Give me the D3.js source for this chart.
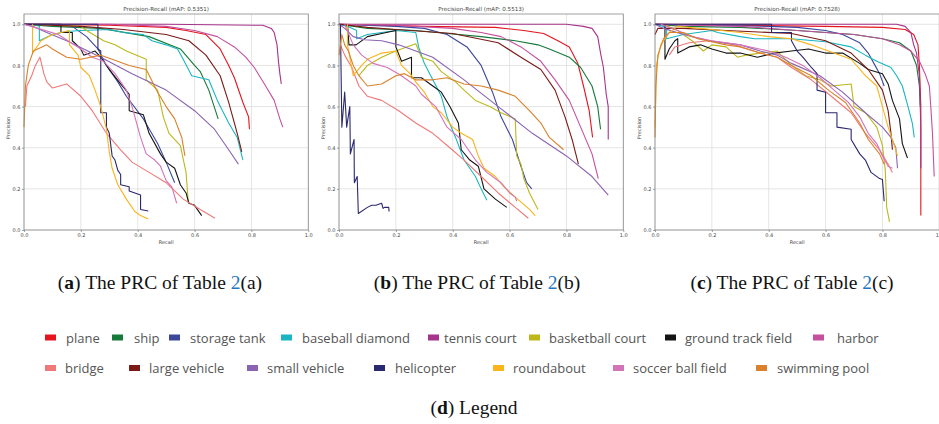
<!DOCTYPE html>
<html>
<head>
<meta charset="utf-8">
<script src="https://cdn.jsdelivr.net/npm/d3@7"></script>
<style>
  body { margin: 0; background: #fff; }
  svg { display: block; }
</style>
</head>
<body>
<script>
// classes, in legend order
const classNames = ['plane', 'ship', 'storage tank', 'baseball diamond', 'tennis court',
  'basketball court', 'ground track field', 'harbor', 'bridge', 'large vehicle',
  'small vehicle', 'helicopter', 'roundabout', 'soccer ball field', 'swimming pool'];

const classColors = ['#e5141e', '#167a3a', '#3c479c', '#19b6c2', '#a6338c',
  '#bcb81c', '#141414', '#c4509e', '#f07878', '#7a1a16',
  '#8a64b0', '#2a2870', '#fbb41a', '#d474b8', '#d9822b'];

const mapValues = ['0.5351', '0.5513', '0.7528'];
const captionLetters = ['a', 'b', 'c'];
const tickValues = [0, 0.2, 0.4, 0.6, 0.8, 1.0];

// [recall, precision] points per class, panel (a)
const curvesA = [
  [[0,1],[0.3,0.995],[0.5,0.985],[0.57,0.97],[0.64,0.95],[0.69,0.88],[0.72,0.8],[0.74,0.74],[0.77,0.62],[0.79,0.55],[0.793,0.49]],
  [[0,1],[0.1,0.99],[0.27,0.98],[0.44,0.94],[0.55,0.88],[0.6,0.8],[0.62,0.77],[0.65,0.68],[0.683,0.54]],
  [[0,1],[0.1,1],[0.17,0.99],[0.22,0.94],[0.26,0.88],[0.29,0.8],[0.33,0.72],[0.36,0.65],[0.42,0.54],[0.47,0.42],[0.5,0.33],[0.53,0.23]],
  [[0,1],[0.03,1],[0.054,0.99],[0.054,0.92],[0.1,0.95],[0.15,0.965],[0.2,0.97],[0.3,0.975],[0.35,0.96],[0.42,0.95],[0.45,0.92],[0.5,0.9],[0.54,0.88],[0.56,0.83],[0.59,0.75],[0.65,0.73],[0.68,0.63],[0.72,0.52],[0.75,0.45],[0.77,0.34]],
  [[0,1],[0.5,1],[0.84,0.995],[0.87,0.98],[0.88,0.96],[0.89,0.9],[0.895,0.82],[0.9,0.76],[0.905,0.71]],
  [[0.03,1],[0.2,0.99],[0.22,0.97],[0.28,0.92],[0.32,0.9],[0.36,0.87],[0.43,0.83],[0.43,0.73],[0.47,0.68],[0.49,0.55],[0.51,0.47],[0.55,0.41],[0.57,0.28],[0.578,0.13]],
  [[0,1],[0.13,1],[0.13,0.96],[0.17,0.96],[0.17,0.92],[0.2,0.88],[0.21,0.85],[0.25,0.87],[0.27,0.84],[0.3,0.78],[0.34,0.71],[0.37,0.66],[0.37,0.58],[0.42,0.56],[0.44,0.47],[0.48,0.37],[0.5,0.33],[0.53,0.3],[0.55,0.22],[0.57,0.18],[0.58,0.13],[0.6,0.12],[0.625,0.07]],
  [[0,1],[0.3,1],[0.5,0.99],[0.6,0.97],[0.68,0.94],[0.74,0.89],[0.78,0.84],[0.81,0.79],[0.85,0.7],[0.88,0.63],[0.9,0.54],[0.91,0.5]],
  [[0.005,0.6],[0.01,0.7],[0.027,0.75],[0.04,0.8],[0.056,0.84],[0.07,0.76],[0.08,0.72],[0.1,0.69],[0.15,0.71],[0.2,0.65],[0.24,0.58],[0.29,0.47],[0.34,0.39],[0.38,0.33],[0.44,0.28],[0.5,0.23],[0.56,0.15],[0.62,0.1],[0.672,0.057]],
  [[0,1],[0.2,0.99],[0.35,0.975],[0.5,0.95],[0.58,0.92],[0.64,0.85],[0.69,0.75],[0.72,0.62],[0.75,0.47],[0.766,0.38]],
  [[0,1],[0.03,0.99],[0.08,0.96],[0.15,0.92],[0.27,0.84],[0.38,0.76],[0.5,0.68],[0.6,0.58],[0.67,0.49],[0.72,0.39],[0.754,0.32]],
  [[0,1],[0.26,1],[0.26,0.88],[0.27,0.87],[0.27,0.57],[0.29,0.57],[0.29,0.5],[0.3,0.47],[0.31,0.36],[0.32,0.34],[0.33,0.29],[0.34,0.27],[0.34,0.22],[0.37,0.21],[0.37,0.19],[0.39,0.18],[0.41,0.17],[0.41,0.1],[0.437,0.092]],
  [[0.03,1],[0.03,0.86],[0.06,0.92],[0.1,0.95],[0.16,0.97],[0.16,0.9],[0.19,0.85],[0.2,0.79],[0.23,0.75],[0.25,0.68],[0.27,0.6],[0.29,0.49],[0.3,0.38],[0.31,0.3],[0.33,0.22],[0.36,0.15],[0.39,0.09],[0.41,0.07],[0.437,0.053]],
  [[0,1],[0.05,0.98],[0.12,0.95],[0.2,0.88],[0.24,0.84],[0.28,0.82],[0.32,0.76],[0.36,0.68],[0.38,0.6],[0.4,0.5],[0.41,0.45],[0.43,0.37],[0.46,0.34],[0.48,0.31],[0.5,0.24],[0.52,0.21],[0.537,0.13]],
  [[0,0.5],[0.005,0.7],[0.015,0.8],[0.033,0.87],[0.08,0.9],[0.1,0.88],[0.15,0.84],[0.2,0.83],[0.27,0.85],[0.31,0.83],[0.37,0.8],[0.43,0.78],[0.47,0.67],[0.5,0.6],[0.53,0.54],[0.555,0.45],[0.566,0.36]]
];

// panel (b)
const curvesB = [
  [[0,1],[0.3,0.99],[0.55,0.985],[0.65,0.97],[0.72,0.955],[0.77,0.92],[0.81,0.89],[0.84,0.81],[0.86,0.7],[0.88,0.58],[0.892,0.45]],
  [[0,1],[0.1,0.98],[0.27,0.97],[0.5,0.94],[0.62,0.92],[0.7,0.9],[0.74,0.88],[0.81,0.84],[0.85,0.79],[0.89,0.7],[0.91,0.6],[0.92,0.49]],
  [[0,1],[0.2,0.99],[0.3,0.98],[0.38,0.95],[0.45,0.89],[0.5,0.8],[0.54,0.67],[0.57,0.55],[0.61,0.44],[0.64,0.31],[0.66,0.23],[0.678,0.2]],
  [[0,1],[0.03,0.99],[0.062,0.97],[0.062,0.93],[0.1,0.95],[0.15,0.96],[0.2,0.97],[0.27,0.96],[0.28,0.89],[0.3,0.81],[0.33,0.73],[0.36,0.65],[0.38,0.55],[0.41,0.45],[0.44,0.34],[0.48,0.26],[0.5,0.2],[0.52,0.145]],
  [[0,1],[0.5,1],[0.8,1],[0.86,0.99],[0.89,0.98],[0.91,0.94],[0.92,0.86],[0.93,0.79],[0.94,0.66],[0.947,0.6],[0.947,0.44]],
  [[0.07,0.75],[0.1,0.8],[0.15,0.84],[0.2,0.87],[0.27,0.905],[0.29,0.84],[0.33,0.82],[0.36,0.77],[0.41,0.72],[0.44,0.68],[0.48,0.63],[0.53,0.6],[0.57,0.57],[0.62,0.54],[0.625,0.36],[0.64,0.32],[0.65,0.25],[0.67,0.18],[0.7,0.1]],
  [[0.03,1],[0.035,0.9],[0.06,0.9],[0.1,0.94],[0.15,0.955],[0.2,0.97],[0.2,0.89],[0.22,0.82],[0.255,0.84],[0.255,0.74],[0.29,0.74],[0.33,0.7],[0.36,0.67],[0.39,0.6],[0.42,0.52],[0.43,0.39],[0.46,0.34],[0.49,0.31],[0.51,0.2],[0.55,0.15],[0.59,0.11]],
  [[0,1],[0.2,0.995],[0.4,0.98],[0.5,0.96],[0.57,0.94],[0.64,0.89],[0.71,0.82],[0.76,0.73],[0.81,0.63],[0.85,0.5],[0.89,0.37],[0.912,0.25]],
  [[0.005,0.9],[0.02,0.85],[0.045,0.79],[0.07,0.7],[0.1,0.65],[0.15,0.63],[0.21,0.58],[0.27,0.52],[0.33,0.47],[0.39,0.4],[0.44,0.34],[0.5,0.26],[0.56,0.18],[0.62,0.11],[0.666,0.057]],
  [[0,1],[0.1,0.985],[0.2,0.975],[0.4,0.955],[0.56,0.91],[0.64,0.84],[0.71,0.78],[0.76,0.68],[0.795,0.55],[0.82,0.44],[0.842,0.32]],
  [[0,1],[0.02,0.98],[0.05,0.94],[0.09,0.925],[0.15,0.92],[0.21,0.9],[0.33,0.84],[0.44,0.73],[0.56,0.6],[0.68,0.47],[0.8,0.36],[0.89,0.26],[0.947,0.17]],
  [[0.005,1],[0.01,0.5],[0.02,0.67],[0.027,0.5],[0.038,0.6],[0.04,0.37],[0.053,0.44],[0.054,0.23],[0.064,0.26],[0.068,0.08],[0.1,0.11],[0.115,0.12],[0.13,0.12],[0.15,0.13],[0.155,0.105],[0.16,0.11],[0.175,0.11],[0.176,0.09]],
  [[0.03,1],[0.03,0.9],[0.05,0.75],[0.08,0.8],[0.1,0.83],[0.15,0.86],[0.2,0.87],[0.22,0.8],[0.25,0.76],[0.27,0.72],[0.3,0.67],[0.33,0.6],[0.36,0.57],[0.4,0.5],[0.43,0.47],[0.47,0.44],[0.49,0.36],[0.51,0.3],[0.55,0.26],[0.58,0.21],[0.62,0.16],[0.67,0.1],[0.69,0.07]],
  [[0.02,1],[0.05,0.9],[0.08,0.85],[0.12,0.81],[0.17,0.79],[0.22,0.75],[0.27,0.7],[0.29,0.66],[0.34,0.6],[0.38,0.5],[0.43,0.44],[0.48,0.34],[0.52,0.28],[0.57,0.23],[0.6,0.18],[0.62,0.16],[0.625,0.14]],
  [[0,0.85],[0.01,0.95],[0.02,0.9],[0.033,0.87],[0.05,0.8],[0.07,0.75],[0.1,0.7],[0.15,0.71],[0.2,0.75],[0.23,0.76],[0.27,0.73],[0.33,0.73],[0.38,0.74],[0.44,0.71],[0.5,0.7],[0.56,0.68],[0.62,0.65],[0.67,0.58],[0.71,0.52],[0.74,0.45],[0.79,0.39]]
];

// panel (c)
const curvesC = [
  [[0,1],[0.3,0.995],[0.6,0.99],[0.8,0.985],[0.88,0.975],[0.91,0.95],[0.925,0.9],[0.93,0.8],[0.935,0.6],[0.935,0.3],[0.935,0.07]],
  [[0,1],[0.1,0.99],[0.3,0.985],[0.5,0.97],[0.7,0.95],[0.8,0.93],[0.86,0.91],[0.9,0.87],[0.92,0.8],[0.93,0.7],[0.933,0.6]],
  [[0,1],[0.2,0.995],[0.4,0.99],[0.5,0.985],[0.6,0.97],[0.66,0.95],[0.72,0.91],[0.75,0.86],[0.77,0.81],[0.79,0.76],[0.806,0.7]],
  [[0,1],[0.03,0.99],[0.041,0.98],[0.041,0.93],[0.1,0.95],[0.2,0.97],[0.22,0.96],[0.3,0.94],[0.35,0.93],[0.48,0.93],[0.6,0.915],[0.69,0.89],[0.74,0.85],[0.78,0.82],[0.83,0.79],[0.85,0.75],[0.87,0.7],[0.89,0.6],[0.905,0.52],[0.912,0.45]],
  [[0,1],[0.6,1],[0.85,1],[0.88,0.99],[0.9,0.96],[0.91,0.9],[0.92,0.86],[0.93,0.75],[0.935,0.5],[0.935,0.3]],
  [[0.03,1],[0.08,0.97],[0.13,0.92],[0.17,0.87],[0.2,0.9],[0.25,0.89],[0.29,0.84],[0.32,0.85],[0.37,0.86],[0.43,0.87],[0.48,0.8],[0.53,0.75],[0.58,0.73],[0.62,0.7],[0.69,0.71],[0.7,0.6],[0.74,0.57],[0.78,0.5],[0.8,0.41],[0.81,0.29],[0.815,0.11],[0.825,0.04]],
  [[0.035,1],[0.035,0.83],[0.05,0.88],[0.07,0.92],[0.08,0.93],[0.08,0.86],[0.12,0.89],[0.16,0.9],[0.2,0.88],[0.25,0.86],[0.3,0.86],[0.36,0.84],[0.42,0.86],[0.48,0.87],[0.54,0.88],[0.6,0.86],[0.66,0.86],[0.72,0.81],[0.75,0.78],[0.8,0.76],[0.82,0.71],[0.835,0.63],[0.86,0.54],[0.87,0.42],[0.888,0.35]],
  [[0,1],[0.3,0.99],[0.5,0.97],[0.7,0.95],[0.8,0.93],[0.86,0.9],[0.9,0.87],[0.93,0.82],[0.95,0.76],[0.965,0.7],[0.97,0.6],[0.976,0.47],[0.982,0.26]],
  [[0.05,0.85],[0.07,0.89],[0.12,0.91],[0.19,0.92],[0.28,0.9],[0.37,0.86],[0.43,0.84],[0.48,0.79],[0.55,0.73],[0.62,0.65],[0.69,0.57],[0.74,0.47],[0.79,0.39],[0.82,0.32],[0.835,0.28]],
  [[0,0.95],[0.01,0.98],[0.1,0.98],[0.25,0.97],[0.48,0.955],[0.6,0.92],[0.69,0.86],[0.75,0.78],[0.8,0.68],[0.82,0.58],[0.83,0.47],[0.835,0.39]],
  [[0,1],[0.03,0.98],[0.1,0.95],[0.19,0.92],[0.3,0.9],[0.37,0.87],[0.43,0.85],[0.48,0.81],[0.58,0.75],[0.66,0.67],[0.74,0.57],[0.8,0.5],[0.83,0.45],[0.847,0.4],[0.853,0.3]],
  [[0,1],[0.41,1],[0.41,0.96],[0.48,0.96],[0.48,0.92],[0.5,0.87],[0.52,0.84],[0.55,0.79],[0.57,0.76],[0.57,0.68],[0.6,0.67],[0.6,0.57],[0.64,0.57],[0.64,0.5],[0.69,0.49],[0.69,0.44],[0.72,0.37],[0.74,0.34],[0.76,0.28],[0.79,0.25],[0.8,0.245],[0.806,0.14]],
  [[0,0.5],[0.005,0.8],[0.02,0.9],[0.05,0.96],[0.08,0.99],[0.2,0.975],[0.3,0.96],[0.4,0.94],[0.48,0.93],[0.55,0.9],[0.6,0.875],[0.69,0.83],[0.74,0.75],[0.78,0.7],[0.8,0.6],[0.82,0.5],[0.84,0.42],[0.853,0.36]],
  [[0.02,1],[0.08,0.97],[0.13,0.94],[0.2,0.92],[0.3,0.9],[0.4,0.87],[0.46,0.84],[0.52,0.8],[0.58,0.74],[0.63,0.68],[0.68,0.62],[0.72,0.55],[0.75,0.47],[0.78,0.42],[0.8,0.36],[0.82,0.31],[0.835,0.3]],
  [[0,0.45],[0.003,0.7],[0.01,0.85],[0.03,0.93],[0.05,0.96],[0.1,0.96],[0.15,0.93],[0.25,0.9],[0.3,0.89],[0.37,0.86],[0.43,0.84],[0.48,0.8],[0.55,0.75],[0.61,0.68],[0.67,0.62],[0.72,0.52],[0.75,0.44],[0.79,0.37],[0.806,0.32]]
];

const panelCurves = [curvesA, curvesB, curvesC];

// layout
const W = 939, H = 424;
const panelLeft = [24, 339, 655];
const plotW = 284.3;
const plotTop = 14, plotBottom = 230;
const captionX = [160, 477, 792];

// legend slots: [markerX, textX] per class, two rows
const legendSlots = [
  [45, 66], [112, 134], [169, 190], [281, 302], [428, 444], [529, 549], [665, 685], [813, 837],
  [45, 65], [129, 149], [247, 267], [374, 395], [493, 513], [613, 633], [756, 777]
];
const legendRowY = [338, 368.5];

const svg = d3.select('body').append('svg')
  .attr('width', W)
  .attr('height', H)
  .style('font-family', 'DejaVu Sans, sans-serif');

const yScale = d3.scaleLinear().domain([0, 1.05]).range([plotBottom, plotTop]);

panelCurves.forEach((curves, p) => {
  const x0 = panelLeft[p];
  const xScale = d3.scaleLinear().domain([0, 1]).range([x0, x0 + plotW]);
  const g = svg.append('g');

  // grid
  g.selectAll('.gx').data(tickValues).enter().append('line')
    .attr('x1', d => xScale(d)).attr('x2', d => xScale(d))
    .attr('y1', plotTop).attr('y2', plotBottom)
    .attr('stroke', '#dedede').attr('stroke-width', 0.8);
  g.selectAll('.gy').data(tickValues).enter().append('line')
    .attr('x1', x0).attr('x2', x0 + plotW)
    .attr('y1', d => yScale(d)).attr('y2', d => yScale(d))
    .attr('stroke', '#dedede').attr('stroke-width', 0.8);

  const line = d3.line()
    .x(d => xScale(d[0]))
    .y(d => yScale(d[1]));

  g.selectAll('.curve').data(curves).enter().append('path')
    .attr('d', line)
    .attr('fill', 'none')
    .attr('stroke', (d, i) => classColors[i])
    .attr('stroke-width', 1.1)
    .attr('stroke-linejoin', 'round');

  // frame
  g.append('rect')
    .attr('x', x0).attr('y', plotTop)
    .attr('width', plotW).attr('height', plotBottom - plotTop)
    .attr('fill', 'none').attr('stroke', '#8a8a8a').attr('stroke-width', 0.8);

  const xAxis = g.append('g')
    .attr('transform', `translate(0,${plotBottom})`)
    .call(d3.axisBottom(xScale).tickValues(tickValues).tickFormat(d3.format('.1f')).tickSize(2).tickPadding(1.5));
  const yAxis = g.append('g')
    .attr('transform', `translate(${x0},0)`)
    .call(d3.axisLeft(yScale).tickValues(tickValues).tickFormat(d3.format('.1f')).tickSize(2).tickPadding(1.5));
  [xAxis, yAxis].forEach(a => {
    a.select('.domain').remove();
    a.selectAll('line').attr('stroke', '#666').attr('stroke-width', 0.6);
    a.selectAll('text').attr('fill', '#444').style('font-size', '5px').style('font-family', 'DejaVu Sans, sans-serif');
  });

  g.append('text')
    .attr('x', x0 + plotW / 2).attr('y', 11)
    .attr('text-anchor', 'middle')
    .attr('fill', '#444').style('font-size', '5.6px')
    .text(`Precision-Recall (mAP: ${mapValues[p]})`);

  g.append('text')
    .attr('x', x0 + plotW / 2).attr('y', 244)
    .attr('text-anchor', 'middle')
    .attr('fill', '#444').style('font-size', '5px')
    .text('Recall');

  g.append('text')
    .attr('transform', `translate(${x0 - 14},${(plotTop + plotBottom) / 2 + 6}) rotate(-90)`)
    .attr('text-anchor', 'middle')
    .attr('fill', '#444').style('font-size', '5px')
    .text('Precision');

  // caption
  const cap = svg.append('text')
    .attr('x', captionX[p]).attr('y', 289)
    .attr('text-anchor', 'middle')
    .style('font-family', 'Liberation Serif, serif')
    .style('font-size', '19.5px')
    .attr('fill', '#111');
  cap.append('tspan').text('(');
  cap.append('tspan').attr('font-weight', 'bold').text(captionLetters[p]);
  cap.append('tspan').text(') The PRC of Table ');
  cap.append('tspan').attr('fill', '#1f77c4').text('2');
  cap.append('tspan').text(`(${captionLetters[p]})`);
});

// legend
const legend = svg.append('g');
classNames.forEach((name, i) => {
  const slot = legendSlots[i];
  const ry = legendRowY[i < 8 ? 0 : 1];
  legend.append('rect')
    .attr('x', slot[0]).attr('y', ry - 3.5)
    .attr('width', 11).attr('height', 6)
    .attr('fill', classColors[i]);
  legend.append('text')
    .attr('x', slot[1]).attr('y', ry + 4.5)
    .style('font-family', 'Open Sans, sans-serif')
    .style('font-size', '13px')
    .attr('fill', '#555')
    .text(name);
});

const dcap = svg.append('text')
  .attr('x', 474).attr('y', 414)
  .attr('text-anchor', 'middle')
  .style('font-family', 'Liberation Serif, serif')
  .style('font-size', '19.5px')
  .attr('fill', '#111');
dcap.append('tspan').text('(');
dcap.append('tspan').attr('font-weight', 'bold').text('d');
dcap.append('tspan').text(') Legend');
</script>
</body>
</html>
